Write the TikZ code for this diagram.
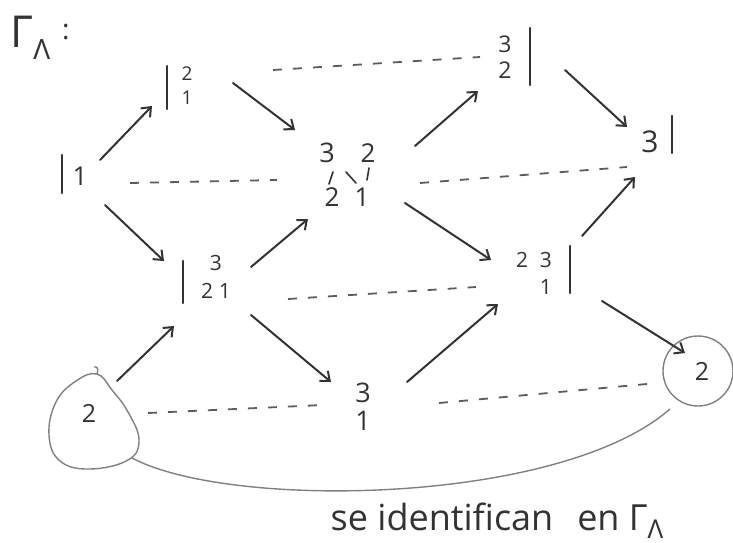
\documentclass[tikz,border=0pt]{standalone}
\usepackage{fontspec}
\setmainfont{Open Sans}
\usetikzlibrary{arrows.meta}
\definecolor{ink}{HTML}{333333}
\definecolor{pencil}{HTML}{808080}
\tikzset{
  num/.style={inner sep=1pt, text=ink, font=\fontsize{22}{26}\selectfont},
  bignum/.style={inner sep=1pt, text=ink, font=\fontsize{30}{30}\selectfont},
  arr/.style={draw=ink, line width=2pt, line cap=round,
    -{Straight Barb[length=8pt,width=13pt,line width=2pt]}},
  tau/.style={draw=ink!80, line width=1.8pt, dash pattern=on 9pt off 11pt},
  bar/.style={draw=ink, line width=2.2pt, line cap=round},
  tick/.style={draw=ink, line width=1.6pt, line cap=round},
  ring/.style={draw=pencil, line width=1.4pt},
}
\begin{document}
\begin{tikzpicture}[x=1pt,y=-1pt]
\useasboundingbox (0,0) rectangle (733,543);
% title
\node[text=ink, font=\fontsize{44}{44}\selectfont, inner sep=0pt] (title) at (40,38) {Γ\raisebox{-12pt}{\fontsize{28}{28}\selectfont Λ}\hspace{12pt}\raisebox{8pt}{\fontsize{28}{28}\selectfont :}};
% modules
\node[bignum, font=\fontsize{26}{26}\selectfont] (n1) at (80,176) {1};
\node[num, font=\fontsize{19}{24}\selectfont] (n21) at (187,88) {\begin{tabular}{@{}c@{}}2\\1\end{tabular}};
\node[num, font=\fontsize{23}{26}\selectfont] (n32) at (505,60) {\begin{tabular}{@{}c@{}}3\\2\end{tabular}};
\node[bignum] (n3) at (650,142) {3};
\node[num, font=\fontsize{21}{28}\selectfont] (n321) at (216,279) {\begin{tabular}{@{}c@{\;}c@{}}\multicolumn{2}{c}{3}\\2&1\end{tabular}};
\node[num, font=\fontsize{21}{27}\selectfont] (n231) at (534,276) {\begin{tabular}{@{}c@{\;\;}c@{}}2&3\\&1\end{tabular}};
\node[num, font=\fontsize{27}{28}\selectfont] (n31) at (363,411) {\begin{tabular}{@{}c@{}}3\\1\end{tabular}};
% middle module 32/21
\node[minimum width=70pt, minimum height=70pt, inner sep=0pt] (m) at (348,175) {};
\node[bignum, font=\fontsize{27}{27}\selectfont] (m3) at (327,153) {3};
\node[num, font=\fontsize{26}{26}\selectfont] (m2a) at (368,153) {2};
\node[num, font=\fontsize{26}{26}\selectfont] (m2b) at (332,197) {2};
\node[num, font=\fontsize{26}{26}\selectfont] (m1) at (362,197) {1};
\draw[tick] ([shift={(6,19)}]m3.center) -- ([shift={(2,31)}]m3.center);
\draw[tick] ([shift={(19,19)}]m3.center) -- ([shift={(29,30)}]m3.center);
\draw[tick] ([shift={(1,15)}]m2a.center) -- ([shift={(-1,27)}]m2a.center);
% circled simple 2 (both copies)
\node[bignum, font=\fontsize{25}{25}\selectfont] (c2) at (89,413) {2};
\draw[ring] plot[smooth cycle, tension=0.7] coordinates {(97,374) (112,390) (128,412) (139,440) (128,460) (90,469) (60,461) (49,435) (56,402) (76,381)};
\draw[ring] (97,374) .. controls (99,369) and (97,366) .. (94,367);
\node[bignum, font=\fontsize{25}{25}\selectfont, circle, ring, minimum size=70pt, inner sep=0pt] (c2r) at (698,371) {\hspace{8pt}2};
% bars (projective / injective marks)
\draw[bar] ([shift={(-18,-21)}]n1.center) -- ([shift={(-18,17)}]n1.center);
\draw[bar] ([shift={(-20,-22)}]n21.center) -- ([shift={(-20,21)}]n21.center);
\draw[bar] ([shift={(25,-32)}]n32.center) -- ([shift={(25,25)}]n32.center);
\draw[bar] ([shift={(22,-26)}]n3.center) -- ([shift={(22,11)}]n3.center);
\draw[bar] ([shift={(-33,-18)}]n321.center) -- ([shift={(-33,24)}]n321.center);
\draw[bar] ([shift={(36,-30)}]n231.center) -- ([shift={(36,17)}]n231.center);
% irreducible maps
\draw[arr] ([shift={(20,-16)}]n1.center) -- ([shift={(-35,18)}]n21.center);
\draw[arr] ([shift={(25,29)}]n1.center) -- ([shift={(-52,-18)}]n321.center);
\draw[arr] ([shift={(46,-5)}]n21.center) -- ([shift={(-53,-45)}]m.center);
\draw[arr] ([shift={(35,-12)}]n321.center) -- ([shift={(-40,44)}]m.center);
\draw[arr] ([shift={(67,-29)}]m.center) -- ([shift={(-27,31)}]n32.center);
\draw[arr] ([shift={(57,28)}]m.center) -- ([shift={(-43,-16)}]n231.center);
\draw[arr] ([shift={(60,10)}]n32.center) -- ([shift={(-23,-15)}]n3.center);
\draw[arr] ([shift={(48,-40)}]n231.center) -- ([shift={(-15,35)}]n3.center);
\draw[arr] ([shift={(28,-32)}]c2.center) -- ([shift={(-42,47)}]n321.center);
\draw[arr] ([shift={(35,36)}]n321.center) -- ([shift={(-32,-29)}]n31.center);
\draw[arr] ([shift={(44,-29)}]n31.center) -- ([shift={(-36,28)}]n231.center);
\draw[arr] ([shift={(68,25)}]n231.center) -- ([shift={(-13,-18)}]c2r.center);
% Auslander-Reiten translations
\draw[tau] ([shift={(86,-18)}]n21.center) -- ([shift={(-25,-3)}]n32.center);
\draw[tau] ([shift={(50,7)}]n1.center) -- ([shift={(-71,5)}]m.center);
\draw[tau] ([shift={(72,8)}]m.center) -- ([shift={(-23,25)}]n3.center);
\draw[tau] ([shift={(72,20)}]n321.center) -- ([shift={(-58,11)}]n231.center);
\draw[tau] ([shift={(59,0)}]c2.center) -- ([shift={(-40,-6)}]n31.center);
\draw[tau] ([shift={(76,-8)}]n31.center) -- ([shift={(-51,13)}]c2r.center);
% identification
\draw[ring] ([shift={(43,45)}]c2.center) .. controls (230,510) and (560,505) .. ([shift={(-28,38)}]c2r.center);
\node[text=ink, font=\fontsize{36}{36}\selectfont, anchor=base, inner sep=0pt] (note) at (497,530) {se identifican\hspace{24pt}en Γ\raisebox{-8pt}{\fontsize{26}{26}\selectfont Λ}};
\end{tikzpicture}
\end{document}
